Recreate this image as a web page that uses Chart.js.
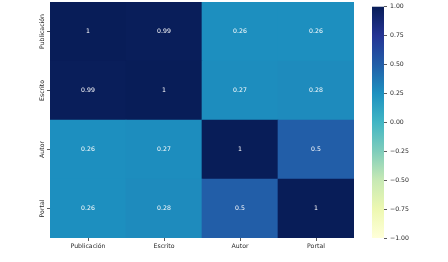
<!DOCTYPE html>
<html>
<head>
<meta charset="utf-8">
<script src="https://cdn.jsdelivr.net/npm/chart.js@4.4.0/dist/chart.umd.min.js"></script>
<style>
  html, body { margin: 0; padding: 0; background: #fff; }
  #wrap { position: relative; width: 448px; height: 262px; }
  #heat { position: absolute; left: 0; top: 0; }
  #bar { position: absolute; left: 360px; top: 0; }
</style>
</head>
<body>
<div id="wrap">
  <canvas id="heat" width="360" height="262"></canvas>
  <canvas id="bar" width="88" height="262"></canvas>
</div>
<script>
const labels = ["Publicación", "Escrito", "Autor", "Portal"];
const publicacionRow = [1, 0.99, 0.26, 0.26];
const escritoRow = [0.99, 1, 0.27, 0.28];
const autorRow = [0.26, 0.27, 1, 0.5];
const portalRow = [0.26, 0.28, 0.5, 1];
const colorbarTicks = [-1, -0.75, -0.5, -0.25, 0, 0.25, 0.5, 0.75, 1];

const rows = [publicacionRow, escritoRow, autorRow, portalRow];
const font = "DejaVu Sans";
const fontSize = 6.2;

// matplotlib YlGnBu
const ylgnbu = [
  [255, 255, 217], [237, 248, 177], [199, 233, 180], [127, 205, 187], [65, 182, 196],
  [29, 145, 192], [34, 94, 168], [37, 52, 148], [8, 29, 88]
];

function cmap(v) {
  let t = (v + 1) / 2;
  t = Math.max(0, Math.min(1, t)) * (ylgnbu.length - 1);
  const i = Math.min(Math.floor(t), ylgnbu.length - 2);
  const f = t - i;
  const a = ylgnbu[i], b = ylgnbu[i + 1];
  const c = a.map((x, k) => Math.round(x + (b[k] - x) * f));
  return `rgb(${c[0]},${c[1]},${c[2]})`;
}

// stacked from bottom row to top row (plot area is 304x236 so cells land on whole pixels)
const datasets = rows.slice().reverse().map(row => ({
  data: row.map(() => 1),
  values: row,
  backgroundColor: row.map(cmap),
  borderWidth: 0,
  barPercentage: 1,
  categoryPercentage: 1
}));

const annotate = {
  id: "annotate",
  afterDatasetsDraw(chart) {
    const ctx = chart.ctx;
    ctx.save();
    ctx.font = `${fontSize}px "${font}"`;
    ctx.fillStyle = "#ffffff";
    ctx.textAlign = "center";
    ctx.textBaseline = "middle";
    chart.data.datasets.forEach((ds, di) => {
      chart.getDatasetMeta(di).data.forEach((bar, i) => {
        ctx.fillText(String(ds.values[i]), bar.x, (bar.y + bar.base) / 2);
      });
    });
    // y labels, rotated
    const y = chart.scales.y;
    ctx.fillStyle = "#262626";
    labels.forEach((lab, i) => {
      const py = y.getPixelForValue(3.5 - i);
      ctx.save();
      ctx.translate(42, py);
      ctx.rotate(-Math.PI / 2);
      ctx.fillText(lab, 0, 0);
      ctx.restore();
    });
    ctx.restore();
  }
};

new Chart(document.getElementById("heat"), {
  type: "bar",
  data: { labels: labels, datasets: datasets },
  options: {
    responsive: false,
    devicePixelRatio: 1,
    animation: false,
    layout: { padding: { top: 2, right: 6, left: 0, bottom: 0 } },
    plugins: { legend: { display: false }, tooltip: { enabled: false } },
    scales: {
      x: {
        stacked: true,
        grid: { display: true, drawOnChartArea: false, offset: false, tickLength: 3, color: "#333", tickWidth: 0.8 },
        border: { display: false },
        ticks: { color: "#262626", font: { family: font, size: fontSize }, padding: 2, maxRotation: 0 },
        afterFit(s) { s.height = 24; }
      },
      y: {
        stacked: true,
        min: 0,
        max: 4,
        afterBuildTicks(s) { s.ticks = [0.5, 1.5, 2.5, 3.5].map(v => ({ value: v })); },
        grid: { display: true, drawOnChartArea: false, tickLength: 3, color: "#333", tickWidth: 0.8 },
        border: { display: false },
        ticks: { display: false },
        afterFit(s) { s.width = 50; }
      }
    }
  },
  plugins: [annotate]
});

const gradientFill = {
  id: "gradientFill",
  beforeDatasetsDraw(chart) {
    const a = chart.chartArea;
    const ctx = chart.ctx;
    const g = ctx.createLinearGradient(0, a.bottom, 0, a.top);
    ylgnbu.forEach((c, i) => g.addColorStop(i / (ylgnbu.length - 1), `rgb(${c[0]},${c[1]},${c[2]})`));
    ctx.save();
    ctx.fillStyle = g;
    ctx.fillRect(a.left, a.top, a.right - a.left, a.bottom - a.top);
    ctx.restore();
  }
};

new Chart(document.getElementById("bar"), {
  type: "bar",
  data: { labels: [""], datasets: [{ data: [] }] },
  options: {
    responsive: false,
    devicePixelRatio: 1,
    animation: false,
    layout: { padding: { top: 2, left: 12, bottom: 24, right: 0 } },
    plugins: { legend: { display: false }, tooltip: { enabled: false } },
    scales: {
      x: { display: false },
      y: {
        position: "right",
        min: -1,
        max: 1,
        afterBuildTicks(s) { s.ticks = colorbarTicks.map(v => ({ value: v })); },
        grid: { display: true, drawOnChartArea: false, tickLength: 3, color: "#333", tickWidth: 0.8 },
        border: { display: false },
        ticks: {
          color: "#262626",
          font: { family: font, size: fontSize },
          padding: 3,
          callback: v => v.toFixed(2).replace("-", "\u2212")
        },
        afterFit(s) { s.width = 64; }
      }
    }
  },
  plugins: [gradientFill]
});
</script>
</body>
</html>
